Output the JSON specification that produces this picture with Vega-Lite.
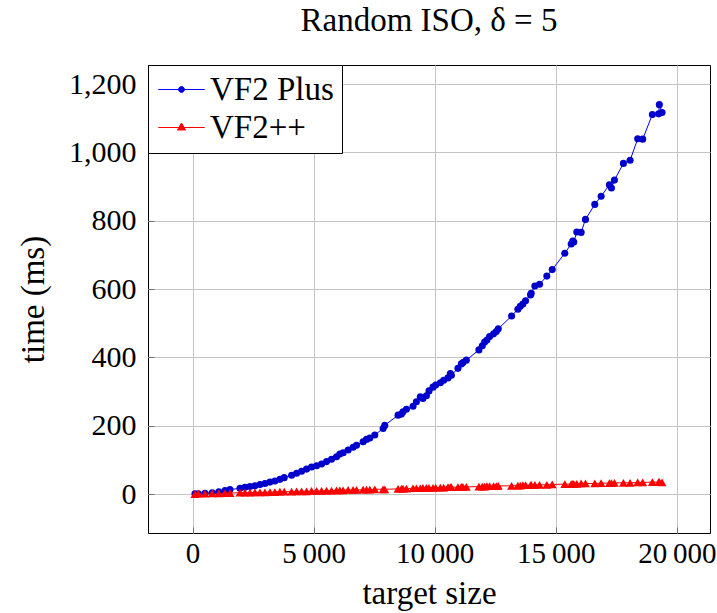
{
  "$schema": "https://vega.github.io/schema/vega-lite/v6.json",
  "width": 562,
  "height": 468,
  "autosize": "none",
  "padding": {"left": 148, "top": 65, "right": 7, "bottom": 80},
  "background": "white",
  "title": {
    "text": "Random ISO, δ = 5",
    "font": "Liberation Serif",
    "fontSize": 33,
    "fontWeight": "normal",
    "color": "black",
    "offset": 27
  },
  "config": {
    "view": {"stroke": "black", "strokeWidth": 1},
    "axis": {
      "labelFont": "Liberation Serif",
      "labelFontSize": 30,
      "labelColor": "black",
      "titleFont": "Liberation Serif",
      "titleFontSize": 33,
      "titleFontWeight": "normal",
      "titleColor": "black",
      "gridColor": "#c4c4c4",
      "gridWidth": 1,
      "domain": false,
      "ticks": true,
      "tickSize": -6,
      "tickColor": "#707070",
      "tickWidth": 1
    },
    "legend": {
      "labelFont": "Liberation Serif",
      "labelFontSize": 33,
      "labelColor": "black",
      "padding": 8,
      "strokeColor": "black",
      "fillColor": "white",
      "cornerRadius": 0,
      "rowPadding": 4,
      "symbolSize": 961,
      "symbolOffset": 9,
      "symbolStrokeWidth": 1,
      "labelOffset": 12
    }
  },
  "data": {
    "values": [
      {"solver": "VF2 Plus", "size": 100, "time": 1},
      {"solver": "VF2 Plus", "size": 240, "time": 1},
      {"solver": "VF2 Plus", "size": 515, "time": 2},
      {"solver": "VF2 Plus", "size": 812, "time": 4},
      {"solver": "VF2 Plus", "size": 1085, "time": 7},
      {"solver": "VF2 Plus", "size": 1340, "time": 10},
      {"solver": "VF2 Plus", "size": 1546, "time": 13},
      {"solver": "VF2 Plus", "size": 1959, "time": 17},
      {"solver": "VF2 Plus", "size": 2165, "time": 20},
      {"solver": "VF2 Plus", "size": 2371, "time": 22},
      {"solver": "VF2 Plus", "size": 2577, "time": 24},
      {"solver": "VF2 Plus", "size": 2784, "time": 28},
      {"solver": "VF2 Plus", "size": 2990, "time": 31},
      {"solver": "VF2 Plus", "size": 3196, "time": 35},
      {"solver": "VF2 Plus", "size": 3402, "time": 38},
      {"solver": "VF2 Plus", "size": 3608, "time": 43},
      {"solver": "VF2 Plus", "size": 3786, "time": 48},
      {"solver": "VF2 Plus", "size": 4091, "time": 55},
      {"solver": "VF2 Plus", "size": 4297, "time": 61},
      {"solver": "VF2 Plus", "size": 4503, "time": 67},
      {"solver": "VF2 Plus", "size": 4709, "time": 73},
      {"solver": "VF2 Plus", "size": 4915, "time": 79},
      {"solver": "VF2 Plus", "size": 5122, "time": 83},
      {"solver": "VF2 Plus", "size": 5328, "time": 88},
      {"solver": "VF2 Plus", "size": 5534, "time": 95},
      {"solver": "VF2 Plus", "size": 5740, "time": 102},
      {"solver": "VF2 Plus", "size": 5946, "time": 109},
      {"solver": "VF2 Plus", "size": 6082, "time": 117},
      {"solver": "VF2 Plus", "size": 6219, "time": 121},
      {"solver": "VF2 Plus", "size": 6425, "time": 129},
      {"solver": "VF2 Plus", "size": 6631, "time": 137},
      {"solver": "VF2 Plus", "size": 6771, "time": 143},
      {"solver": "VF2 Plus", "size": 7044, "time": 153},
      {"solver": "VF2 Plus", "size": 7183, "time": 160},
      {"solver": "VF2 Plus", "size": 7320, "time": 164},
      {"solver": "VF2 Plus", "size": 7526, "time": 173},
      {"solver": "VF2 Plus", "size": 7869, "time": 192},
      {"solver": "VF2 Plus", "size": 7938, "time": 201},
      {"solver": "VF2 Plus", "size": 8487, "time": 231},
      {"solver": "VF2 Plus", "size": 8627, "time": 234},
      {"solver": "VF2 Plus", "size": 8693, "time": 241},
      {"solver": "VF2 Plus", "size": 8833, "time": 248},
      {"solver": "VF2 Plus", "size": 9105, "time": 257},
      {"solver": "VF2 Plus", "size": 9245, "time": 270},
      {"solver": "VF2 Plus", "size": 9406, "time": 285},
      {"solver": "VF2 Plus", "size": 9513, "time": 280},
      {"solver": "VF2 Plus", "size": 9657, "time": 288},
      {"solver": "VF2 Plus", "size": 9765, "time": 302},
      {"solver": "VF2 Plus", "size": 9930, "time": 313},
      {"solver": "VF2 Plus", "size": 10041, "time": 319},
      {"solver": "VF2 Plus", "size": 10235, "time": 326},
      {"solver": "VF2 Plus", "size": 10371, "time": 333},
      {"solver": "VF2 Plus", "size": 10549, "time": 340},
      {"solver": "VF2 Plus", "size": 10647, "time": 353},
      {"solver": "VF2 Plus", "size": 10689, "time": 348},
      {"solver": "VF2 Plus", "size": 10961, "time": 368},
      {"solver": "VF2 Plus", "size": 11101, "time": 381},
      {"solver": "VF2 Plus", "size": 11167, "time": 385},
      {"solver": "VF2 Plus", "size": 11307, "time": 392},
      {"solver": "VF2 Plus", "size": 11827, "time": 422},
      {"solver": "VF2 Plus", "size": 11967, "time": 434},
      {"solver": "VF2 Plus", "size": 12062, "time": 445},
      {"solver": "VF2 Plus", "size": 12157, "time": 451},
      {"solver": "VF2 Plus", "size": 12268, "time": 461},
      {"solver": "VF2 Plus", "size": 12433, "time": 469},
      {"solver": "VF2 Plus", "size": 12544, "time": 476},
      {"solver": "VF2 Plus", "size": 12627, "time": 484},
      {"solver": "VF2 Plus", "size": 13175, "time": 521},
      {"solver": "VF2 Plus", "size": 13435, "time": 541},
      {"solver": "VF2 Plus", "size": 13534, "time": 550},
      {"solver": "VF2 Plus", "size": 13641, "time": 556},
      {"solver": "VF2 Plus", "size": 13753, "time": 566},
      {"solver": "VF2 Plus", "size": 13959, "time": 583},
      {"solver": "VF2 Plus", "size": 13987, "time": 588},
      {"solver": "VF2 Plus", "size": 14136, "time": 609},
      {"solver": "VF2 Plus", "size": 14330, "time": 614},
      {"solver": "VF2 Plus", "size": 14631, "time": 638},
      {"solver": "VF2 Plus", "size": 14854, "time": 657},
      {"solver": "VF2 Plus", "size": 15373, "time": 705},
      {"solver": "VF2 Plus", "size": 15637, "time": 732},
      {"solver": "VF2 Plus", "size": 15703, "time": 741},
      {"solver": "VF2 Plus", "size": 15744, "time": 738},
      {"solver": "VF2 Plus", "size": 15868, "time": 767},
      {"solver": "VF2 Plus", "size": 16048, "time": 766},
      {"solver": "VF2 Plus", "size": 16227, "time": 804},
      {"solver": "VF2 Plus", "size": 16611, "time": 848},
      {"solver": "VF2 Plus", "size": 16874, "time": 872},
      {"solver": "VF2 Plus", "size": 17216, "time": 905},
      {"solver": "VF2 Plus", "size": 17299, "time": 896},
      {"solver": "VF2 Plus", "size": 17423, "time": 919},
      {"solver": "VF2 Plus", "size": 17794, "time": 968},
      {"solver": "VF2 Plus", "size": 18070, "time": 977},
      {"solver": "VF2 Plus", "size": 18383, "time": 1040},
      {"solver": "VF2 Plus", "size": 18590, "time": 1039},
      {"solver": "VF2 Plus", "size": 18990, "time": 1111},
      {"solver": "VF2 Plus", "size": 19250, "time": 1113},
      {"solver": "VF2 Plus", "size": 19278, "time": 1140},
      {"solver": "VF2 Plus", "size": 19390, "time": 1117},
      {"solver": "VF2++", "size": 100, "time": 0},
      {"solver": "VF2++", "size": 240, "time": 1},
      {"solver": "VF2++", "size": 515, "time": 1},
      {"solver": "VF2++", "size": 812, "time": 2},
      {"solver": "VF2++", "size": 1085, "time": 2},
      {"solver": "VF2++", "size": 1340, "time": 3},
      {"solver": "VF2++", "size": 1546, "time": 3},
      {"solver": "VF2++", "size": 1959, "time": 4},
      {"solver": "VF2++", "size": 2165, "time": 4},
      {"solver": "VF2++", "size": 2371, "time": 4},
      {"solver": "VF2++", "size": 2577, "time": 5},
      {"solver": "VF2++", "size": 2784, "time": 5},
      {"solver": "VF2++", "size": 2990, "time": 5},
      {"solver": "VF2++", "size": 3196, "time": 6},
      {"solver": "VF2++", "size": 3402, "time": 6},
      {"solver": "VF2++", "size": 3608, "time": 7},
      {"solver": "VF2++", "size": 3786, "time": 7},
      {"solver": "VF2++", "size": 4091, "time": 7},
      {"solver": "VF2++", "size": 4297, "time": 8},
      {"solver": "VF2++", "size": 4503, "time": 8},
      {"solver": "VF2++", "size": 4709, "time": 8},
      {"solver": "VF2++", "size": 4915, "time": 9},
      {"solver": "VF2++", "size": 5122, "time": 9},
      {"solver": "VF2++", "size": 5328, "time": 9},
      {"solver": "VF2++", "size": 5534, "time": 10},
      {"solver": "VF2++", "size": 5740, "time": 10},
      {"solver": "VF2++", "size": 5946, "time": 11},
      {"solver": "VF2++", "size": 6082, "time": 11},
      {"solver": "VF2++", "size": 6219, "time": 11},
      {"solver": "VF2++", "size": 6425, "time": 12},
      {"solver": "VF2++", "size": 6631, "time": 12},
      {"solver": "VF2++", "size": 6771, "time": 12},
      {"solver": "VF2++", "size": 7044, "time": 13},
      {"solver": "VF2++", "size": 7183, "time": 13},
      {"solver": "VF2++", "size": 7320, "time": 13},
      {"solver": "VF2++", "size": 7526, "time": 14},
      {"solver": "VF2++", "size": 7869, "time": 14},
      {"solver": "VF2++", "size": 7938, "time": 14},
      {"solver": "VF2++", "size": 8487, "time": 15},
      {"solver": "VF2++", "size": 8627, "time": 16},
      {"solver": "VF2++", "size": 8693, "time": 16},
      {"solver": "VF2++", "size": 8833, "time": 16},
      {"solver": "VF2++", "size": 9105, "time": 17},
      {"solver": "VF2++", "size": 9245, "time": 17},
      {"solver": "VF2++", "size": 9406, "time": 17},
      {"solver": "VF2++", "size": 9513, "time": 18},
      {"solver": "VF2++", "size": 9657, "time": 18},
      {"solver": "VF2++", "size": 9765, "time": 18},
      {"solver": "VF2++", "size": 9930, "time": 18},
      {"solver": "VF2++", "size": 10041, "time": 19},
      {"solver": "VF2++", "size": 10235, "time": 19},
      {"solver": "VF2++", "size": 10371, "time": 19},
      {"solver": "VF2++", "size": 10549, "time": 20},
      {"solver": "VF2++", "size": 10647, "time": 20},
      {"solver": "VF2++", "size": 10689, "time": 20},
      {"solver": "VF2++", "size": 10961, "time": 20},
      {"solver": "VF2++", "size": 11101, "time": 21},
      {"solver": "VF2++", "size": 11167, "time": 21},
      {"solver": "VF2++", "size": 11307, "time": 21},
      {"solver": "VF2++", "size": 11827, "time": 22},
      {"solver": "VF2++", "size": 11967, "time": 22},
      {"solver": "VF2++", "size": 12062, "time": 22},
      {"solver": "VF2++", "size": 12157, "time": 23},
      {"solver": "VF2++", "size": 12268, "time": 23},
      {"solver": "VF2++", "size": 12433, "time": 23},
      {"solver": "VF2++", "size": 12544, "time": 23},
      {"solver": "VF2++", "size": 12627, "time": 24},
      {"solver": "VF2++", "size": 13175, "time": 24},
      {"solver": "VF2++", "size": 13435, "time": 25},
      {"solver": "VF2++", "size": 13534, "time": 25},
      {"solver": "VF2++", "size": 13641, "time": 26},
      {"solver": "VF2++", "size": 13753, "time": 26},
      {"solver": "VF2++", "size": 13959, "time": 26},
      {"solver": "VF2++", "size": 13987, "time": 27},
      {"solver": "VF2++", "size": 14136, "time": 27},
      {"solver": "VF2++", "size": 14330, "time": 27},
      {"solver": "VF2++", "size": 14631, "time": 27},
      {"solver": "VF2++", "size": 14854, "time": 28},
      {"solver": "VF2++", "size": 15373, "time": 29},
      {"solver": "VF2++", "size": 15637, "time": 29},
      {"solver": "VF2++", "size": 15703, "time": 30},
      {"solver": "VF2++", "size": 15744, "time": 29},
      {"solver": "VF2++", "size": 15868, "time": 30},
      {"solver": "VF2++", "size": 16048, "time": 31},
      {"solver": "VF2++", "size": 16227, "time": 31},
      {"solver": "VF2++", "size": 16611, "time": 31},
      {"solver": "VF2++", "size": 16874, "time": 32},
      {"solver": "VF2++", "size": 17216, "time": 32},
      {"solver": "VF2++", "size": 17299, "time": 32},
      {"solver": "VF2++", "size": 17423, "time": 33},
      {"solver": "VF2++", "size": 17794, "time": 33},
      {"solver": "VF2++", "size": 18070, "time": 33},
      {"solver": "VF2++", "size": 18383, "time": 34},
      {"solver": "VF2++", "size": 18590, "time": 34},
      {"solver": "VF2++", "size": 18990, "time": 35},
      {"solver": "VF2++", "size": 19250, "time": 35},
      {"solver": "VF2++", "size": 19278, "time": 36},
      {"solver": "VF2++", "size": 19390, "time": 34}
    ]
  },
  "encoding": {
    "x": {
      "field": "size",
      "type": "quantitative",
      "scale": {"domain": [-1840, 21370], "nice": false, "zero": false},
      "axis": {
        "title": "target size",
        "values": [0, 5000, 10000, 15000, 20000],
        "labelExpr": "replace(format(datum.value, ','), ',', '\u2009')",
        "labelFontSize": 29,
        "labelPadding": 12,
        "titlePadding": 9
      }
    },
    "y": {
      "field": "time",
      "type": "quantitative",
      "scale": {"domain": [-114, 1256], "nice": false, "zero": false},
      "axis": {
        "title": "time (ms)",
        "values": [0, 200, 400, 600, 800, 1000, 1200],
        "format": ",d",
        "labelPadding": 18,
        "titlePadding": 18
      }
    }
  },
  "layer": [
    {
      "mark": {"type": "line", "strokeWidth": 1, "clip": true},
      "encoding": {
        "stroke": {
          "field": "solver",
          "type": "nominal",
          "scale": {"domain": ["VF2 Plus", "VF2++"], "range": ["#0000ff", "#ff0000"]},
          "legend": {
            "title": null,
            "orient": "top-left",
            "offset": 0,
            "encode": {
              "symbols": {
                "update": {
                  "shape": {"signal": "datum.label === 'VF2 Plus' ? 'M-1.5,0H1.5M-0.19,0A0.19,0.19 0 1,0 0.19,0A0.19,0.19 0 1,0 -0.19,0Z' : 'M-1.5,0H1.5M-0.26,0.16L0,-0.29L0.26,0.16Z'"},
                  "fill": {"signal": "datum.label === 'VF2 Plus' ? '#0000cc' : '#ff0000'"},
                  "strokeWidth": {"value": 1}
                }
              }
            }
          }
        },
        "order": {"field": "size", "type": "quantitative"}
      }
    },
    {
      "mark": {"type": "point", "filled": true, "opacity": 1, "clip": true},
      "encoding": {
        "fill": {
          "condition": {"test": "datum.solver === 'VF2++'", "value": "#ff0000"},
          "value": "#0000cc"
        },
        "shape": {
          "condition": {"test": "datum.solver === 'VF2++'", "value": "triangle-up"},
          "value": "circle"
        },
        "size": {
          "condition": {"test": "datum.solver === 'VF2++'", "value": 80},
          "value": 50
        }
      }
    }
  ]
}
